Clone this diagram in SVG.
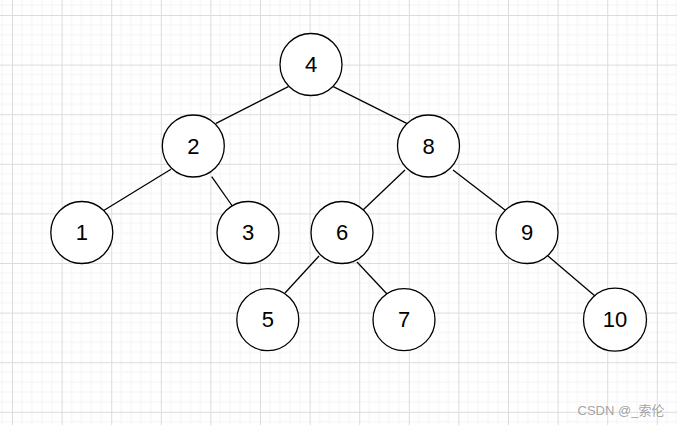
<svg xmlns="http://www.w3.org/2000/svg" width="677" height="425" viewBox="0 0 677 425">
<defs>
<pattern id="grid" patternUnits="userSpaceOnUse" x="12" y="15" width="49.6" height="49.6">
<g stroke="#f4f4f4" stroke-width="1">
<line x1="9.92" y1="0" x2="9.92" y2="49.6"/>
<line x1="19.84" y1="0" x2="19.84" y2="49.6"/>
<line x1="29.76" y1="0" x2="29.76" y2="49.6"/>
<line x1="39.68" y1="0" x2="39.68" y2="49.6"/>
<line x1="0" y1="9.92" x2="49.6" y2="9.92"/>
<line x1="0" y1="19.84" x2="49.6" y2="19.84"/>
<line x1="0" y1="29.76" x2="49.6" y2="29.76"/>
<line x1="0" y1="39.68" x2="49.6" y2="39.68"/>
</g>
<g stroke="#dcdcdc" stroke-width="1">
<line x1="0.5" y1="0" x2="0.5" y2="49.6"/>
<line x1="0" y1="0.5" x2="49.6" y2="0.5"/>
</g>
</pattern>
<style>
.node circle{fill:#fff;stroke:#000;stroke-width:1.3}
.node text{font-family:"Liberation Sans",Arial,sans-serif;font-size:22px;fill:#000;text-anchor:middle;dominant-baseline:central}
#edges line{stroke:#000;stroke-width:1.3}
</style>
</defs>
<rect width="677" height="425" fill="#fff"/>
<rect width="677" height="425" fill="url(#grid)"/>
<g id="edges">
<line x1="288.3" y1="86.7" x2="216" y2="123.3"/>
<line x1="333.3" y1="86.7" x2="406.7" y2="123.3"/>
<line x1="171" y1="169.3" x2="103.3" y2="210.7"/>
<line x1="211.7" y1="176.7" x2="232.3" y2="206"/>
<line x1="405" y1="170" x2="363" y2="210"/>
<line x1="453" y1="170" x2="505" y2="210"/>
<line x1="319" y1="256" x2="285" y2="293"/>
<line x1="357" y1="262" x2="387" y2="294"/>
<line x1="548" y1="256" x2="595" y2="296"/>
</g>
<g id="n4" class="node"><circle cx="311" cy="64.5" r="31"/><text x="311" y="64.5">4</text></g>
<g id="n2" class="node"><circle cx="193.3" cy="146" r="31"/><text x="193.3" y="146">2</text></g>
<g id="n8" class="node"><circle cx="428.5" cy="146" r="31"/><text x="428.5" y="146">8</text></g>
<g id="n1" class="node"><circle cx="81.8" cy="232.5" r="31"/><text x="81.8" y="232.5">1</text></g>
<g id="n3" class="node"><circle cx="248" cy="232.5" r="31"/><text x="248" y="232.5">3</text></g>
<g id="n6" class="node"><circle cx="342" cy="232.5" r="31"/><text x="342" y="232.5">6</text></g>
<g id="n9" class="node"><circle cx="527" cy="232.5" r="31"/><text x="527" y="232.5">9</text></g>
<g id="n5" class="node"><circle cx="267.8" cy="319.7" r="31"/><text x="267.8" y="319.7">5</text></g>
<g id="n7" class="node"><circle cx="404" cy="319.7" r="31"/><text x="404" y="319.7">7</text></g>
<g id="n10" class="node"><circle cx="615" cy="319.7" r="31.5"/><text x="615" y="319.7">10</text></g>
<text x="621" y="415" font-family="'Liberation Sans','Noto Sans CJK SC',sans-serif" font-size="13" fill="#999" fill-opacity="0.9" text-anchor="middle">CSDN @_索伦</text>
</svg>
